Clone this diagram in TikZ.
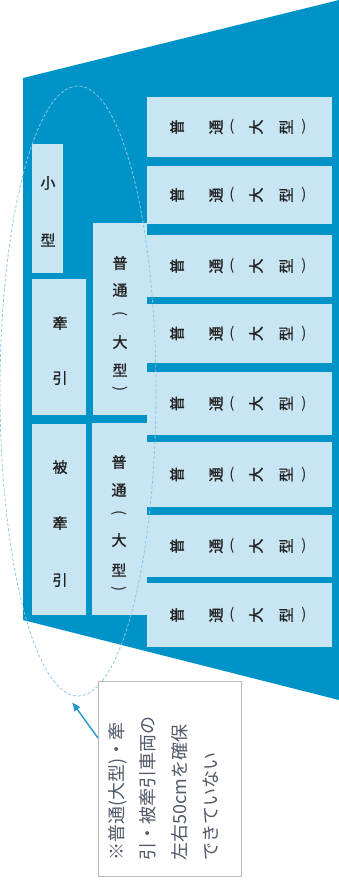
\documentclass[tikz,border=0pt]{standalone}
\usepackage{fontspec}
\newfontfamily\jp[AutoFakeBold=1.2]{Noto Sans CJK JP}
\usetikzlibrary{arrows.meta}
\definecolor{bblue}{RGB}{0,147,200}
\definecolor{lbox}{RGB}{200,229,243}
\definecolor{dashc}{RGB}{140,200,230}
\definecolor{arrc}{RGB}{35,150,205}
\definecolor{ntext}{RGB}{80,90,105}
\definecolor{gtext}{RGB}{35,35,35}
\tikzset{
  box/.style={fill=lbox, draw=none, inner sep=0pt, outer sep=0pt, anchor=north west},
  rg/.style={rotate=90, inner sep=0pt, text=gtext, font=\jp\bfseries\fontsize{15}{15}\selectfont},
  rp/.style={inner sep=0pt, text=gtext, font=\jp\fontsize{15}{15}\selectfont},
  vg/.style={inner sep=0pt, text=gtext, font=\jp\bfseries\fontsize{15}{15}\selectfont},
  vp/.style={rotate=-90, inner sep=0pt, text=gtext, font=\jp\fontsize{15}{15}\selectfont},
}
\newcommand\rrow[2]{%
  \node[rg] (#1g1) at (177,#2) {普};
  \node[rg] (#1g2) at (216,#2) {通};
  \node[rp] (#1g3) at (232,#2) {(};
  \node[rg] (#1g4) at (256,#2) {大};
  \node[rg] (#1g5) at (286,#2) {型};
  \node[rp] (#1g6) at (304,#2) {)};}
\newcommand\vcol[8]{% name, x, y1..y6
  \node[vg] (#1g1) at (#2,#3) {普};
  \node[vg] (#1g2) at (#2,#4) {通};
  \node[vp] (#1g3) at (#2,#5) {(};
  \node[vg] (#1g4) at (#2,#6) {大};
  \node[vg] (#1g5) at (#2,#7) {型};
  \node[vp] (#1g6) at (#2,#8) {)};}
\begin{document}
\begin{tikzpicture}[x=1pt,y=-1pt]
\useasboundingbox (0,0) rectangle (339,894);
% lot
\fill[bblue] (23,78) -- (339,0) -- (339,700) -- (23,620) -- cycle;
% right column
\node[box, minimum width=185pt, minimum height=60pt] (r1) at (147,97) {};
\node[box, minimum width=185pt, minimum height=58pt] (r2) at (147,166) {};
\node[box, minimum width=185pt, minimum height=62pt] (r3) at (147,235) {};
\node[box, minimum width=185pt, minimum height=59pt] (r4) at (147,304) {};
\node[box, minimum width=185pt, minimum height=63pt] (r5) at (147,372) {};
\node[box, minimum width=185pt, minimum height=65pt] (r6) at (147,442) {};
\node[box, minimum width=185pt, minimum height=62pt] (r7) at (147,515) {};
\node[box, minimum width=185pt, minimum height=64pt] (r8) at (147,583) {};
\rrow{r1}{127}
\rrow{r2}{195}
\rrow{r3}{266}
\rrow{r4}{333.5}
\rrow{r5}{403.5}
\rrow{r6}{474.5}
\rrow{r7}{546}
\rrow{r8}{615}
% middle column
\node[box, minimum width=54pt, minimum height=192pt] (m1) at (93,223) {};
\node[box, minimum width=55pt, minimum height=192pt] (m2) at (92,423) {};
\vcol{m1}{120}{263}{290}{314}{342}{370}{389}
\vcol{m2}{119}{462}{490}{513}{540}{570}{589}
% left column
\node[box, minimum width=31pt, minimum height=129pt] (l1) at (32,144) {};
\node[box, minimum width=54pt, minimum height=136pt] (l2) at (32,279) {};
\node[box, minimum width=54pt, minimum height=191pt] (l3) at (32,424) {};
\node[vg] (l1a) at (48,183) {小};
\node[vg] (l1b) at (48,240) {型};
\node[vg] (l2a) at (60,323) {牽};
\node[vg] (l2b) at (60,378) {引};
\node[vg] (l3a) at (60,467) {被};
\node[vg] (l3b) at (60,523) {牽};
\node[vg] (l3c) at (60,580) {引};
% dashed ellipse
\draw[dashc, line width=0.8pt, dash pattern=on 3pt off 2pt] (78,391) ellipse [x radius=78, y radius=305];
% note
\node[draw=gray!55, fill=white, line width=0.8pt, inner sep=0pt, anchor=north west,
      minimum width=143pt, minimum height=195pt] (note) at (98,681) {};
\node[rotate=90, anchor=north west, align=left, inner sep=0pt, text=ntext,
      font=\jp\fontsize{18}{31.5}\selectfont] (notetext) at (108,861)
  {※普通(大型)・牽\\引・被牽引車両の\\左右50cmを確保\\できていない};
\coordinate (tip) at (72,702);
\draw[arrc, line width=1.4pt, -{Latex[length=9pt,width=8pt]}] ([yshift=-57pt]note.north west) -- (tip);
\end{tikzpicture}
\end{document}
